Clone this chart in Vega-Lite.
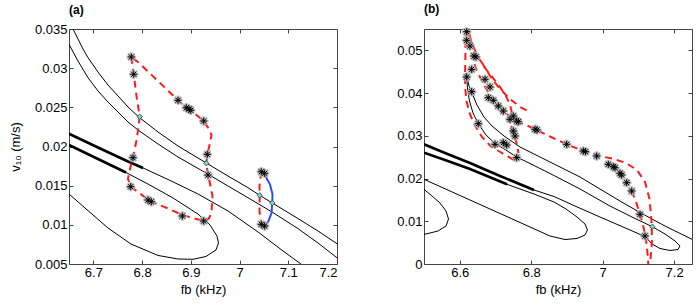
{
"$schema": "https://vega.github.io/schema/vega-lite/v6.json",
"padding": {"left": 8, "top": 2, "right": 5, "bottom": 5},
"spacing": 58,
"config": {
 "font": "Liberation Sans",
 "view": {"stroke": "#444", "strokeWidth": 1},
 "axis": {"grid": false, "domain": false, "labelFontSize": 13, "labelColor": "#000", "tickColor": "#444", "tickSize": -4, "labelPadding": 6, "titleFontSize": 13, "titleFontWeight": "normal", "titleColor": "#000", "format": "~g"},
 "title": {"fontSize": 12, "fontWeight": "bold", "anchor": "start", "frame": "group", "offset": 6}
},
"datasets": {
 "linesA": [
  {"s":"L1","i":1,"f":6.6582,"v":0.035},{"s":"L1","i":2,"f":6.6685,"v":0.03372},{"s":"L1","i":3,"f":6.6787,"v":0.03245},{"s":"L1","i":4,"f":6.689,"v":0.03134},{"s":"L1","i":5,"f":6.7095,"v":0.02951},{"s":"L1","i":6,"f":6.73,"v":0.02785},{"s":"L1","i":7,"f":6.7506,"v":0.02645},{"s":"L1","i":8,"f":6.7711,"v":0.02504},{"s":"L1","i":9,"f":6.793,"v":0.02377},{"s":"L1","i":10,"f":6.8327,"v":0.02185},{"s":"L1","i":11,"f":6.8737,"v":0.02006},{"s":"L1","i":12,"f":6.9318,"v":0.01789},{"s":"L1","i":13,"f":6.9763,"v":0.01623},{"s":"L1","i":14,"f":7.0173,"v":0.01474},{"s":"L1","i":15,"f":7.0414,"v":0.01377},{"s":"L1","i":16,"f":7.0672,"v":0.01279},{"s":"L1","i":17,"f":7.1198,"v":0.01081},{"s":"L1","i":18,"f":7.161,"v":0.00921},{"s":"L1","i":19,"f":7.2,"v":0.00759},
  {"s":"L2","i":1,"f":6.65,"v":0.03305},{"s":"L2","i":2,"f":6.6685,"v":0.03091},{"s":"L2","i":3,"f":6.689,"v":0.02878},{"s":"L2","i":4,"f":6.7095,"v":0.02709},{"s":"L2","i":5,"f":6.73,"v":0.02568},{"s":"L2","i":6,"f":6.7506,"v":0.0244},{"s":"L2","i":7,"f":6.7711,"v":0.02313},{"s":"L2","i":8,"f":6.7916,"v":0.02211},{"s":"L2","i":9,"f":6.8327,"v":0.02032},{"s":"L2","i":10,"f":6.8737,"v":0.01866},{"s":"L2","i":11,"f":6.9311,"v":0.01662},{"s":"L2","i":12,"f":6.9763,"v":0.01496},{"s":"L2","i":13,"f":7.0173,"v":0.01346},{"s":"L2","i":14,"f":7.0666,"v":0.01164},{"s":"L2","i":15,"f":7.1198,"v":0.00953},{"s":"L2","i":16,"f":7.161,"v":0.00768},{"s":"L2","i":17,"f":7.2,"v":0.0058},
  {"s":"L3","i":1,"f":6.65,"v":0.02163},{"s":"L3","i":2,"f":6.7095,"v":0.01987},{"s":"L3","i":3,"f":6.7711,"v":0.01809},{"s":"L3","i":4,"f":6.8019,"v":0.01726},{"s":"L3","i":5,"f":6.8532,"v":0.01579},{"s":"L3","i":6,"f":6.9147,"v":0.01394},{"s":"L3","i":7,"f":6.9763,"v":0.01177},{"s":"L3","i":8,"f":7.0379,"v":0.00909},{"s":"L3","i":9,"f":7.0892,"v":0.00666},{"s":"L3","i":10,"f":7.1261,"v":0.005},
  {"s":"L4","i":1,"f":6.65,"v":0.02019},{"s":"L4","i":2,"f":6.7095,"v":0.0184},{"s":"L4","i":3,"f":6.767,"v":0.01668},{"s":"L4","i":4,"f":6.8121,"v":0.01521},{"s":"L4","i":5,"f":6.8634,"v":0.01343},{"s":"L4","i":6,"f":6.9147,"v":0.01138},{"s":"L4","i":7,"f":6.9394,"v":0.00998},{"s":"L4","i":8,"f":6.9537,"v":0.00857},{"s":"L4","i":9,"f":6.9568,"v":0.00768},{"s":"L4","i":10,"f":6.9517,"v":0.00679},{"s":"L4","i":11,"f":6.9311,"v":0.00596},{"s":"L4","i":12,"f":6.9045,"v":0.0056},{"s":"L4","i":13,"f":6.8737,"v":0.00564},{"s":"L4","i":14,"f":6.8327,"v":0.00609},{"s":"L4","i":15,"f":6.7772,"v":0.00755},{"s":"L4","i":16,"f":6.73,"v":0.0096},{"s":"L4","i":17,"f":6.6828,"v":0.01215},{"s":"L4","i":18,"f":6.65,"v":0.01394}
 ],
 "thickA": [
  {"s":"T3","i":1,"f":6.65,"v":0.02163},{"s":"T3","i":2,"f":6.7095,"v":0.01987},{"s":"T3","i":3,"f":6.7711,"v":0.01809},{"s":"T3","i":4,"f":6.8019,"v":0.01726},
  {"s":"T4","i":1,"f":6.65,"v":0.02019},{"s":"T4","i":2,"f":6.7095,"v":0.0184},{"s":"T4","i":3,"f":6.767,"v":0.01668}
 ],
 "redA": [
  {"s":"r1","i":1,"f":6.7779,"v":0.03143},{"s":"r1","i":2,"f":6.7828,"v":0.02922},{"s":"r1","i":3,"f":6.7885,"v":0.02645},{"s":"r1","i":4,"f":6.7951,"v":0.0238},{"s":"r1","i":5,"f":6.7895,"v":0.02109},{"s":"r1","i":6,"f":6.7813,"v":0.01857},{"s":"r1","i":7,"f":6.7731,"v":0.01662},{"s":"r1","i":8,"f":6.7711,"v":0.01585},{"s":"r1","i":9,"f":6.7766,"v":0.01487},{"s":"r1","i":10,"f":6.8121,"v":0.01323},{"s":"r1","i":11,"f":6.8189,"v":0.01295},{"s":"r1","i":12,"f":6.8532,"v":0.01209},{"s":"r1","i":13,"f":6.884,"v":0.01122},{"s":"r1","i":14,"f":6.9264,"v":0.01049},{"s":"r1","i":15,"f":6.9373,"v":0.01081},{"s":"r1","i":16,"f":6.9424,"v":0.01155},{"s":"r1","i":17,"f":6.9445,"v":0.01368},{"s":"r1","i":18,"f":6.9383,"v":0.0156},{"s":"r1","i":19,"f":6.9353,"v":0.01636},{"s":"r1","i":20,"f":6.9318,"v":0.01786},{"s":"r1","i":21,"f":6.9338,"v":0.019},{"s":"r1","i":22,"f":6.9394,"v":0.02045},{"s":"r1","i":23,"f":6.9424,"v":0.02147},{"s":"r1","i":24,"f":6.9373,"v":0.02223},{"s":"r1","i":25,"f":6.9264,"v":0.02326},{"s":"r1","i":26,"f":6.8998,"v":0.02462},{"s":"r1","i":27,"f":6.8907,"v":0.02495},{"s":"r1","i":28,"f":6.8737,"v":0.0259},{"s":"r1","i":29,"f":6.8327,"v":0.02836},{"s":"r1","i":30,"f":6.7916,"v":0.03079},{"s":"r1","i":31,"f":6.7779,"v":0.03143},
  {"s":"r2","i":1,"f":7.0446,"v":0.01678},{"s":"r2","i":2,"f":7.0409,"v":0.01496},{"s":"r2","i":3,"f":7.0414,"v":0.01377},{"s":"r2","i":4,"f":7.0409,"v":0.01177},{"s":"r2","i":5,"f":7.0446,"v":0.01007}
 ],
 "blueA": [
  {"s":"b1","i":1,"f":7.0446,"v":0.01678},{"s":"b1","i":2,"f":7.0543,"v":0.01606},{"s":"b1","i":3,"f":7.0625,"v":0.01517},{"s":"b1","i":4,"f":7.0676,"v":0.01389},{"s":"b1","i":5,"f":7.0672,"v":0.0128},{"s":"b1","i":6,"f":7.0656,"v":0.01151},{"s":"b1","i":7,"f":7.0594,"v":0.01049},{"s":"b1","i":8,"f":7.0516,"v":0.00985}
 ],
 "starA": [
  {"f":6.8737,"v":0.0259},{"f":6.8907,"v":0.02495},{"f":6.8963,"v":0.02479},{"f":6.8998,"v":0.02462},{"f":6.9264,"v":0.02326},{"f":6.7779,"v":0.03143},{"f":6.7828,"v":0.02922},{"f":6.7813,"v":0.01857},{"f":6.7766,"v":0.01487},{"f":6.8121,"v":0.01317},{"f":6.8189,"v":0.01295},{"f":6.8826,"v":0.01113},{"f":6.9264,"v":0.01049},{"f":6.9338,"v":0.019},{"f":6.9353,"v":0.01636},{"f":7.0446,"v":0.01678},{"f":7.0516,"v":0.01658},{"f":7.0446,"v":0.01007},{"f":7.0516,"v":0.00985}
 ],
 "cyanA": [
  {"f":6.7951,"v":0.0238},{"f":6.9318,"v":0.01786},{"f":7.0414,"v":0.01377},{"f":7.0672,"v":0.0128}
 ],
 "linesB": [
  {"s":"U","i":1,"f":6.6195,"v":0.044},{"s":"U","i":2,"f":6.6259,"v":0.04166},{"s":"U","i":3,"f":6.6343,"v":0.04002},{"s":"U","i":4,"f":6.6483,"v":0.03721},{"s":"U","i":5,"f":6.6679,"v":0.0344},{"s":"U","i":6,"f":6.6903,"v":0.0323},{"s":"U","i":7,"f":6.7239,"v":0.02996},{"s":"U","i":8,"f":6.7687,"v":0.02738},{"s":"U","i":9,"f":6.8246,"v":0.02504},{"s":"U","i":10,"f":6.8638,"v":0.0234},{"s":"U","i":11,"f":6.9366,"v":0.02036},{"s":"U","i":12,"f":6.9925,"v":0.01755},{"s":"U","i":13,"f":7.0485,"v":0.01474},{"s":"U","i":14,"f":7.1045,"v":0.01205},{"s":"U","i":15,"f":7.1744,"v":0.00889},{"s":"U","i":16,"f":7.25,"v":0.00578},
  {"s":"T2","i":1,"f":6.6195,"v":0.044},{"s":"T2","i":2,"f":6.6217,"v":0.04096},{"s":"T2","i":3,"f":6.6273,"v":0.03815},{"s":"T2","i":4,"f":6.6371,"v":0.03534},{"s":"T2","i":5,"f":6.652,"v":0.03284},{"s":"T2","i":6,"f":6.6735,"v":0.03019},{"s":"T2","i":7,"f":6.6987,"v":0.0282},{"s":"T2","i":8,"f":6.7267,"v":0.0268},{"s":"T2","i":9,"f":6.7594,"v":0.02504},{"s":"T2","i":10,"f":6.8106,"v":0.02294},{"s":"T2","i":11,"f":6.8638,"v":0.02071},{"s":"T2","i":12,"f":6.9366,"v":0.01755},{"s":"T2","i":13,"f":7.0205,"v":0.01357},{"s":"T2","i":14,"f":7.0905,"v":0.01065},{"s":"T2","i":15,"f":7.1389,"v":0.00873},{"s":"T2","i":16,"f":7.1744,"v":0.00702},{"s":"T2","i":17,"f":7.2024,"v":0.00538},{"s":"T2","i":18,"f":7.2164,"v":0.00421},{"s":"T2","i":19,"f":7.2108,"v":0.00339},{"s":"T2","i":20,"f":7.1884,"v":0.00316},{"s":"T2","i":21,"f":7.1604,"v":0.00363},{"s":"T2","i":22,"f":7.138,"v":0.00468},{"s":"T2","i":23,"f":7.1204,"v":0.00632},{"s":"T2","i":24,"f":7.0765,"v":0.00796},{"s":"T2","i":25,"f":6.9925,"v":0.011},{"s":"T2","i":26,"f":6.9226,"v":0.01357},{"s":"T2","i":27,"f":6.8638,"v":0.0158},{"s":"T2","i":28,"f":6.8078,"v":0.01732},{"s":"T2","i":29,"f":6.7127,"v":0.0206},{"s":"T2","i":30,"f":6.6287,"v":0.02364},{"s":"T2","i":31,"f":6.5588,"v":0.02598},{"s":"T2","i":32,"f":6.5,"v":0.02801},
  {"s":"TB","i":1,"f":6.5,"v":0.02605},{"s":"TB","i":2,"f":6.5588,"v":0.02434},{"s":"TB","i":3,"f":6.6287,"v":0.02223},{"s":"TB","i":4,"f":6.7323,"v":0.01865},{"s":"TB","i":5,"f":6.8078,"v":0.01638},{"s":"TB","i":6,"f":6.8638,"v":0.01451},{"s":"TB","i":7,"f":6.8974,"v":0.01287},{"s":"TB","i":8,"f":6.9282,"v":0.011},{"s":"TB","i":9,"f":6.9506,"v":0.00936},{"s":"TB","i":10,"f":6.9575,"v":0.00796},{"s":"TB","i":11,"f":6.9506,"v":0.00679},{"s":"TB","i":12,"f":6.9282,"v":0.00597},{"s":"TB","i":13,"f":6.8946,"v":0.00573},{"s":"TB","i":14,"f":6.8526,"v":0.00655},{"s":"TB","i":15,"f":6.7966,"v":0.00866},{"s":"TB","i":16,"f":6.7407,"v":0.01077},{"s":"TB","i":17,"f":6.6847,"v":0.01287},{"s":"TB","i":18,"f":6.6287,"v":0.01498},{"s":"TB","i":19,"f":6.5728,"v":0.01708},{"s":"TB","i":20,"f":6.5,"v":0.01982},
  {"s":"SL","i":1,"f":6.5,"v":0.01748},{"s":"SL","i":2,"f":6.5224,"v":0.01591},{"s":"SL","i":3,"f":6.5448,"v":0.01428},{"s":"SL","i":4,"f":6.5616,"v":0.0124},{"s":"SL","i":5,"f":6.5686,"v":0.01053},{"s":"SL","i":6,"f":6.5616,"v":0.00889},{"s":"SL","i":7,"f":6.5392,"v":0.00772},{"s":"SL","i":8,"f":6.5112,"v":0.00714},{"s":"SL","i":9,"f":6.5,"v":0.00695}
 ],
 "thickB": [
  {"s":"K1","i":1,"f":6.8078,"v":0.01732},{"s":"K1","i":2,"f":6.7127,"v":0.0206},{"s":"K1","i":3,"f":6.6287,"v":0.02364},{"s":"K1","i":4,"f":6.5588,"v":0.02598},{"s":"K1","i":5,"f":6.5,"v":0.02801},
  {"s":"K2","i":1,"f":6.5,"v":0.02605},{"s":"K2","i":2,"f":6.5588,"v":0.02434},{"s":"K2","i":3,"f":6.6287,"v":0.02223},{"s":"K2","i":4,"f":6.7323,"v":0.01865}
 ],
 "redB": [
  {"s":"S1","i":1,"f":6.6161,"v":0.055},{"s":"S1","i":2,"f":6.6161,"v":0.05102},{"s":"S1","i":3,"f":6.6156,"v":0.04704},{"s":"S1","i":4,"f":6.6147,"v":0.044},{"s":"S1","i":5,"f":6.6156,"v":0.04096},{"s":"S1","i":6,"f":6.6189,"v":0.03815},{"s":"S1","i":7,"f":6.6273,"v":0.03534},{"s":"S1","i":8,"f":6.6413,"v":0.03265},{"s":"S1","i":9,"f":6.6623,"v":0.02972},{"s":"S1","i":10,"f":6.6875,"v":0.0275},{"s":"S1","i":11,"f":6.7183,"v":0.02598},{"s":"S1","i":12,"f":6.7519,"v":0.02434},
  {"s":"S2","i":1,"f":6.6203,"v":0.055},{"s":"S2","i":2,"f":6.6259,"v":0.05219},{"s":"S2","i":3,"f":6.6343,"v":0.04868},{"s":"S2","i":4,"f":6.6455,"v":0.04564},{"s":"S2","i":5,"f":6.6623,"v":0.04283},{"s":"S2","i":6,"f":6.6791,"v":0.04026},{"s":"S2","i":7,"f":6.6987,"v":0.03815},{"s":"S2","i":8,"f":6.7211,"v":0.03604},{"s":"S2","i":9,"f":6.7407,"v":0.03441},{"s":"S2","i":10,"f":6.7631,"v":0.03323},{"s":"S2","i":11,"f":6.7855,"v":0.03253},{"s":"S2","i":12,"f":6.8106,"v":0.03153},{"s":"S2","i":13,"f":6.8526,"v":0.02984},{"s":"S2","i":14,"f":6.8993,"v":0.02801},{"s":"S2","i":15,"f":6.9506,"v":0.02628},{"s":"S2","i":16,"f":6.9841,"v":0.02539},{"s":"S2","i":17,"f":7.0261,"v":0.02469},{"s":"S2","i":18,"f":7.0653,"v":0.02364},{"s":"S2","i":19,"f":7.0961,"v":0.022},{"s":"S2","i":20,"f":7.1185,"v":0.01919},{"s":"S2","i":21,"f":7.1311,"v":0.01521},{"s":"S2","i":22,"f":7.1367,"v":0.01006},{"s":"S2","i":23,"f":7.138,"v":0.00538},{"s":"S2","i":24,"f":7.1352,"v":0.00234},{"s":"S2","i":25,"f":7.1324,"v":0.0},
  {"s":"S3","i":1,"f":6.6231,"v":0.055},{"s":"S3","i":2,"f":6.6315,"v":0.05219},{"s":"S3","i":3,"f":6.6455,"v":0.04938},{"s":"S3","i":4,"f":6.6679,"v":0.04634},{"s":"S3","i":5,"f":6.6903,"v":0.0433},{"s":"S3","i":6,"f":6.7127,"v":0.04096},{"s":"S3","i":7,"f":6.7407,"v":0.03862},{"s":"S3","i":8,"f":6.7687,"v":0.03674},{"s":"S3","i":9,"f":6.791,"v":0.03581},
  {"s":"S4","i":1,"f":6.6259,"v":0.05383},{"s":"S4","i":2,"f":6.6371,"v":0.05102},{"s":"S4","i":3,"f":6.6511,"v":0.04845},{"s":"S4","i":4,"f":6.6707,"v":0.04587},{"s":"S4","i":5,"f":6.6931,"v":0.04353},{"s":"S4","i":6,"f":6.7127,"v":0.04143},{"s":"S4","i":7,"f":6.7295,"v":0.03932},{"s":"S4","i":8,"f":6.7407,"v":0.03721},{"s":"S4","i":9,"f":6.7463,"v":0.03534},{"s":"S4","i":10,"f":6.7491,"v":0.03393},
  {"s":"S5","i":1,"f":6.7435,"v":0.0323},{"s":"S5","i":2,"f":6.7499,"v":0.03113},{"s":"S5","i":3,"f":6.7547,"v":0.02972},{"s":"S5","i":4,"f":6.7603,"v":0.02785},{"s":"S5","i":5,"f":6.7645,"v":0.02598},
  {"s":"S6","i":1,"f":7.0812,"v":0.01709},{"s":"S6","i":2,"f":7.0933,"v":0.01451},{"s":"S6","i":3,"f":7.1045,"v":0.01163},{"s":"S6","i":4,"f":7.1129,"v":0.00913},{"s":"S6","i":5,"f":7.1204,"v":0.00632},{"s":"S6","i":6,"f":7.1249,"v":0.00304},{"s":"S6","i":7,"f":7.1277,"v":0.0}
 ],
 "blueB": [
  {"s":"q1","i":1,"f":6.6195,"v":0.055},{"s":"q1","i":2,"f":6.6195,"v":0.0536},
  {"s":"q2","i":1,"f":6.6175,"v":0.0447},{"s":"q2","i":2,"f":6.6195,"v":0.04377}
 ],
 "starB": [
  {"f":6.6195,"v":0.05437},{"f":6.6195,"v":0.05235},{"f":6.6287,"v":0.05102},{"f":6.6399,"v":0.04868},{"f":6.6455,"v":0.04845},{"f":6.6335,"v":0.04556},{"f":6.6195,"v":0.04376},{"f":6.6335,"v":0.04033},{"f":6.652,"v":0.03284},{"f":6.6707,"v":0.04323},{"f":6.6847,"v":0.04142},{"f":6.6799,"v":0.03892},{"f":6.6939,"v":0.03831},{"f":6.7079,"v":0.03698},{"f":6.7219,"v":0.03581},{"f":6.7407,"v":0.03386},{"f":6.7499,"v":0.03464},{"f":6.7594,"v":0.03347},{"f":6.7639,"v":0.0333},{"f":6.7499,"v":0.03113},{"f":6.7547,"v":0.02996},{"f":6.6987,"v":0.02801},{"f":6.7219,"v":0.02839},{"f":6.7314,"v":0.02785},{"f":6.7594,"v":0.02488},{"f":6.8106,"v":0.03153},{"f":6.8162,"v":0.03136},{"f":6.8993,"v":0.02801},{"f":6.9458,"v":0.02645},{"f":6.952,"v":0.02628},{"f":6.9833,"v":0.02527},{"f":7.0158,"v":0.02333},{"f":7.0297,"v":0.02277},{"f":7.0345,"v":0.02254},{"f":7.0485,"v":0.02123},{"f":7.0532,"v":0.02083},{"f":7.0672,"v":0.01903},{"f":7.0812,"v":0.01709},{"f":7.1045,"v":0.01163},{"f":7.1185,"v":0.00655}
 ],
 "cyanB": [
  {"f":7.1389,"v":0.00873}
 ]
},
"hconcat": [
 {
  "title": {"text": "(a)"},
  "width": 268, "height": 235,
  "resolve": {"axis": {"x": "independent", "y": "independent"}},
  "layer": [
   {
    "encoding": {
     "x": {"field": "f", "type": "quantitative", "scale": {"domain": [6.65, 7.2], "nice": false, "zero": false}, "axis": {"orient": "bottom", "values": [6.7, 6.8, 6.9, 7, 7.1, 7.2], "title": "fb (kHz)", "titlePadding": 4}},
     "y": {"field": "v", "type": "quantitative", "scale": {"domain": [0.005, 0.035], "nice": false, "zero": false}, "axis": {"orient": "left", "values": [0.005, 0.01, 0.015, 0.02, 0.025, 0.03, 0.035], "title": "v₁₀ (m/s)", "titlePadding": 12}}
    },
    "layer": [
     {"data": {"name": "linesA"}, "mark": {"type": "line", "color": "#000", "strokeWidth": 1, "clip": true}, "encoding": {"detail": {"field": "s"}, "order": {"field": "i", "type": "quantitative"}}},
     {"data": {"name": "thickA"}, "mark": {"type": "line", "color": "#000", "strokeWidth": 2.6, "clip": true}, "encoding": {"detail": {"field": "s"}, "order": {"field": "i", "type": "quantitative"}}},
     {"data": {"name": "redA"}, "mark": {"type": "line", "color": "#ff1a1a", "strokeWidth": 2, "strokeDash": [7, 5], "clip": true}, "encoding": {"detail": {"field": "s"}, "order": {"field": "i", "type": "quantitative"}}},
     {"data": {"name": "blueA"}, "mark": {"type": "line", "color": "#2b4cff", "strokeWidth": 2, "clip": true}, "encoding": {"detail": {"field": "s"}, "order": {"field": "i", "type": "quantitative"}}},
     {"data": {"name": "starA"}, "mark": {"type": "point", "shape": "M-1,0H1M0,-1V1M-0.7,-0.7L0.7,0.7M-0.7,0.7L0.7,-0.7", "filled": false, "stroke": "#b5b5b5", "strokeWidth": 2.5, "size": 90, "opacity": 0.9}},
     {"data": {"name": "starA"}, "mark": {"type": "point", "shape": "M-1,0H1M0,-1V1M-0.7,-0.7L0.7,0.7M-0.7,0.7L0.7,-0.7", "filled": false, "stroke": "#000", "strokeWidth": 1, "size": 50, "opacity": 1}},
     {"data": {"name": "cyanA"}, "mark": {"type": "point", "shape": "diamond", "filled": true, "fill": "#6fe3c4", "stroke": "#333", "strokeWidth": 0.8, "size": 28, "opacity": 1}}
    ]
   },
   {
    "data": {"name": "cyanA"},
    "mark": {"type": "point", "opacity": 0},
    "encoding": {
     "x": {"field": "f", "type": "quantitative", "scale": {"domain": [6.65, 7.2], "nice": false, "zero": false}, "axis": {"orient": "top", "values": [6.7, 6.8, 6.9, 7, 7.1, 7.2], "labels": false, "title": null}},
     "y": {"field": "v", "type": "quantitative", "scale": {"domain": [0.005, 0.035], "nice": false, "zero": false}, "axis": {"orient": "right", "values": [0.005, 0.01, 0.015, 0.02, 0.025, 0.03, 0.035], "labels": false, "title": null}}
    }
   }
  ]
 },
 {
  "title": {"text": "(b)"},
  "width": 268, "height": 235,
  "resolve": {"axis": {"x": "independent", "y": "independent"}},
  "layer": [
   {
    "encoding": {
     "x": {"field": "f", "type": "quantitative", "scale": {"domain": [6.5, 7.25], "nice": false, "zero": false}, "axis": {"orient": "bottom", "values": [6.6, 6.8, 7, 7.2], "title": "fb (kHz)", "titlePadding": 4}},
     "y": {"field": "v", "type": "quantitative", "scale": {"domain": [0, 0.055], "nice": false, "zero": false}, "axis": {"orient": "left", "values": [0, 0.01, 0.02, 0.03, 0.04, 0.05], "title": null}}
    },
    "layer": [
     {"data": {"name": "linesB"}, "mark": {"type": "line", "color": "#000", "strokeWidth": 1, "clip": true}, "encoding": {"detail": {"field": "s"}, "order": {"field": "i", "type": "quantitative"}}},
     {"data": {"name": "thickB"}, "mark": {"type": "line", "color": "#000", "strokeWidth": 2.6, "clip": true}, "encoding": {"detail": {"field": "s"}, "order": {"field": "i", "type": "quantitative"}}},
     {"data": {"name": "redB"}, "mark": {"type": "line", "color": "#ff1a1a", "strokeWidth": 2, "strokeDash": [7, 5], "clip": true}, "encoding": {"detail": {"field": "s"}, "order": {"field": "i", "type": "quantitative"}}},
     {"data": {"name": "blueB"}, "mark": {"type": "line", "color": "#2b4cff", "strokeWidth": 2, "clip": true}, "encoding": {"detail": {"field": "s"}, "order": {"field": "i", "type": "quantitative"}}},
     {"data": {"name": "starB"}, "mark": {"type": "point", "shape": "M-1,0H1M0,-1V1M-0.7,-0.7L0.7,0.7M-0.7,0.7L0.7,-0.7", "filled": false, "stroke": "#b5b5b5", "strokeWidth": 2.5, "size": 90, "opacity": 0.9}},
     {"data": {"name": "starB"}, "mark": {"type": "point", "shape": "M-1,0H1M0,-1V1M-0.7,-0.7L0.7,0.7M-0.7,0.7L0.7,-0.7", "filled": false, "stroke": "#000", "strokeWidth": 1, "size": 50, "opacity": 1}},
     {"data": {"name": "cyanB"}, "mark": {"type": "point", "shape": "diamond", "filled": true, "fill": "#6fe3c4", "stroke": "#333", "strokeWidth": 0.8, "size": 28, "opacity": 1}}
    ]
   },
   {
    "data": {"name": "cyanB"},
    "mark": {"type": "point", "opacity": 0},
    "encoding": {
     "x": {"field": "f", "type": "quantitative", "scale": {"domain": [6.5, 7.25], "nice": false, "zero": false}, "axis": {"orient": "top", "values": [6.6, 6.8, 7, 7.2], "labels": false, "title": null}},
     "y": {"field": "v", "type": "quantitative", "scale": {"domain": [0, 0.055], "nice": false, "zero": false}, "axis": {"orient": "right", "values": [0, 0.01, 0.02, 0.03, 0.04, 0.05], "labels": false, "title": null}}
    }
   }
  ]
 }
]
}
